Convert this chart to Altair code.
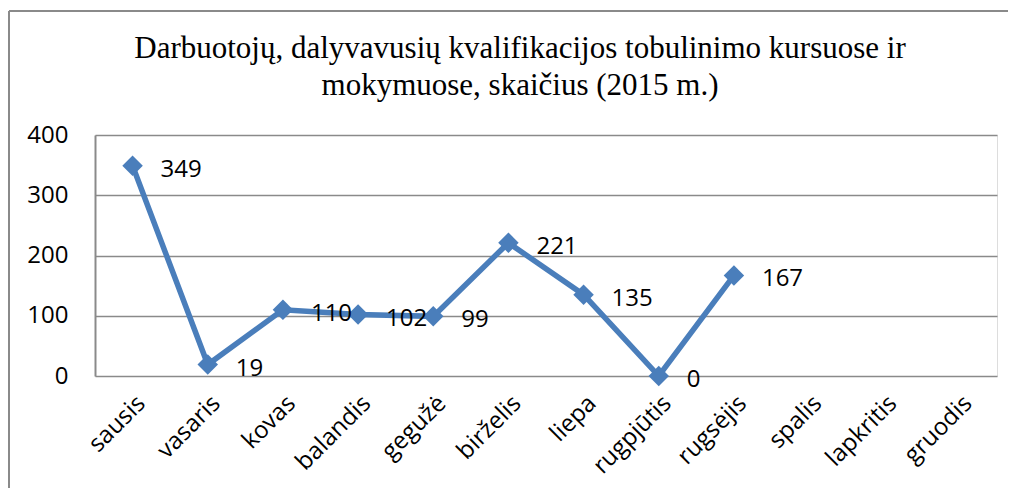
import altair as alt
import pandas as pd

months = ["sausis", "vasaris", "kovas", "balandis", "gegužė", "birželis",
          "liepa", "rugpjūtis", "rugsėjis", "spalis", "lapkritis", "gruodis"]
values = [349, 19, 110, 102, 99, 221, 135, 0, 167, None, None, None]
y_ticks = [0, 100, 200, 300, 400]
title_lines = ["Darbuotojų, dalyvavusių kvalifikacijos tobulinimo kursuose ir",
               "mokymuose, skaičius (2015 m.)"]

df = pd.DataFrame({"month": months, "value": values})

BLUE = "#4A7EBB"
GRAY = "#8a8a8a"

x_enc = alt.X("month:N", sort=months,
              scale=alt.Scale(type="point", domain=months, padding=0.5),
              axis=alt.Axis(title=None, labelAngle=-45, tickSize=0, domain=False,
                            grid=False, labelFont="Open Sans", labelFontSize=24,
                            labelColor="black", labelPadding=15))
y_enc = alt.Y("value:Q", scale=alt.Scale(domain=[0, 400], nice=False, zero=True),
              axis=alt.Axis(title=None, values=y_ticks, tickSize=0, labelPadding=27,
                            labelFont="Open Sans", labelFontSize=24, labelColor="black",
                            domainColor=GRAY, domainWidth=2, gridColor=GRAY,
                            gridWidth=1.5))

base = alt.Chart(df).transform_filter("datum.value != null")

line = base.mark_line(color=BLUE, strokeWidth=5.5).encode(x=x_enc, y=y_enc)
pts = base.mark_point(shape="diamond", filled=True, size=420, color=BLUE,
                      opacity=1).encode(x="month:N", y="value:Q")
labels = base.mark_text(align="left", baseline="middle", dx=28, dy=4,
                        font="Open Sans", fontSize=24, color="black").encode(
    x="month:N", y="value:Q", text="value:Q")

border_left = alt.Chart(df).mark_rule(color=GRAY, strokeWidth=2).encode(
    x=alt.value(-86), y=alt.value(-124), y2=alt.value(400))
border_top = alt.Chart(df).mark_rule(color=GRAY, strokeWidth=2).encode(
    x=alt.value(-86), x2=alt.value(920), y=alt.value(-124))

chart = alt.layer(border_left, border_top, line, pts, labels).properties(
    width=902, height=241,
    title=alt.Title(title_lines, anchor="middle", frame="group", dx=-26, dy=155,
                    font="Liberation Serif", fontSize=31, fontWeight="normal",
                    color="black", lineHeight=37, offset=32, baseline="bottom"),
    autosize=alt.AutoSizeParams(type="none"),
    padding={"left": 87, "top": 127, "right": 11, "bottom": 112},
).configure_view(stroke=None).configure(background="white")

chart.save("out.html", embed_options={"renderer": "svg", "actions": False})
